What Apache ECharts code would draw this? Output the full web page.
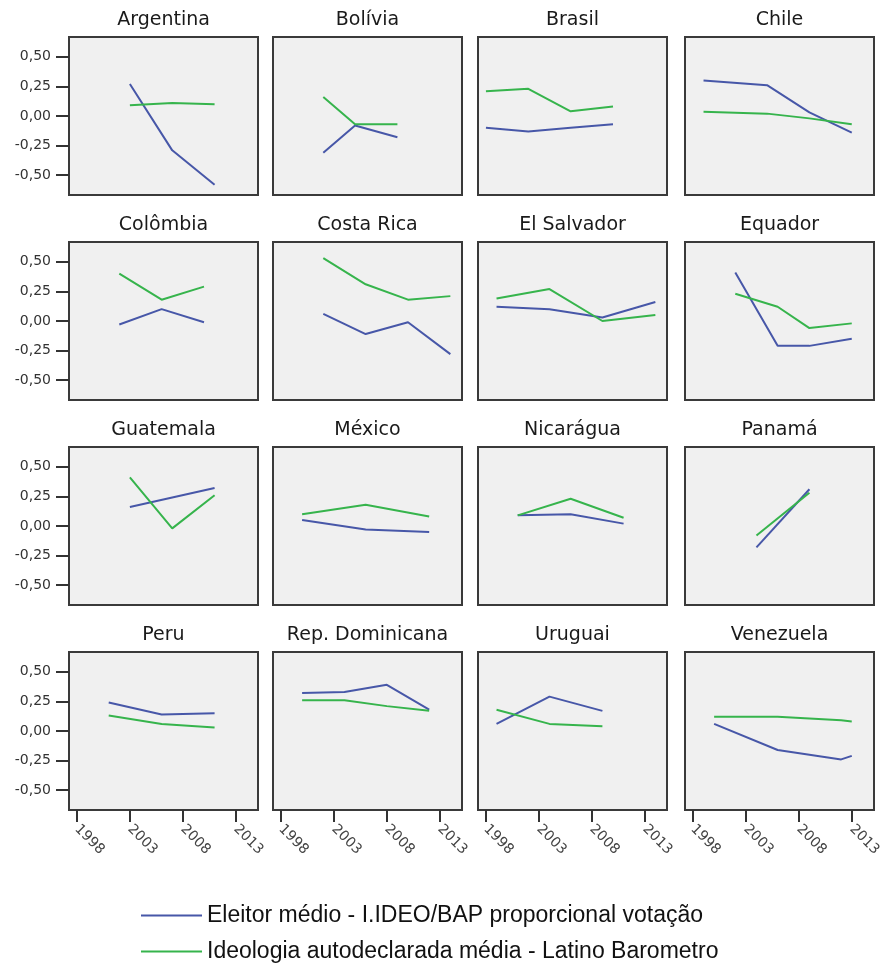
<!DOCTYPE html>
<html>
<head>
<meta charset="utf-8">
<script src="https://cdn.jsdelivr.net/npm/echarts@6/dist/echarts.min.js"></script>
<style>
  html, body { margin: 0; padding: 0; background: #fff; }
  #chart { width: 885px; height: 968px; }
</style>
</head>
<body>
<div id="chart"></div>
<script>
// países (um painel cada, 4 x 4)
var paises = ['Argentina', 'Bolívia', 'Brasil', 'Chile',
    'Colômbia', 'Costa Rica', 'El Salvador', 'Equador',
    'Guatemala', 'México', 'Nicarágua', 'Panamá',
    'Peru', 'Rep. Dominicana', 'Uruguai', 'Venezuela'];

// anos de eleição por país
var anos = [
    [2003, 2007, 2011],
    [2002, 2005, 2009],
    [1998, 2002, 2006, 2010],
    [1999, 2005, 2009, 2013],
    [2002, 2006, 2010],
    [2002, 2006, 2010, 2014],
    [1999, 2004, 2009, 2014],
    [2002, 2006, 2009, 2013],
    [2003, 2007, 2011],
    [2000, 2006, 2012],
    [2001, 2006, 2011],
    [2004, 2009],
    [2001, 2006, 2011],
    [2000, 2004, 2008, 2012],
    [1999, 2004, 2009],
    [2000, 2006, 2012, 2013]
];

// Eleitor médio - I.IDEO/BAP proporcional votação
var eleitorMedio = [
    [0.27, -0.29, -0.58],
    [-0.31, -0.08, -0.18],
    [-0.10, -0.13, -0.10, -0.07],
    [0.30, 0.26, 0.03, -0.14],
    [-0.03, 0.10, -0.01],
    [0.06, -0.11, -0.01, -0.28],
    [0.12, 0.10, 0.03, 0.16],
    [0.41, -0.21, -0.21, -0.15],
    [0.16, 0.24, 0.32],
    [0.05, -0.03, -0.05],
    [0.09, 0.10, 0.02],
    [-0.18, 0.31],
    [0.24, 0.14, 0.15],
    [0.32, 0.33, 0.39, 0.18],
    [0.06, 0.29, 0.17],
    [0.06, -0.16, -0.24, -0.21]
];

// Ideologia autodeclarada média - Latino Barometro
var ideologiaMedia = [
    [0.09, 0.11, 0.10],
    [0.16, -0.07, -0.07],
    [0.21, 0.23, 0.04, 0.08],
    [0.035, 0.02, -0.02, -0.07],
    [0.40, 0.18, 0.29],
    [0.53, 0.31, 0.18, 0.21],
    [0.19, 0.27, 0.00, 0.05],
    [0.23, 0.12, -0.06, -0.02],
    [0.41, -0.02, 0.26],
    [0.10, 0.18, 0.08],
    [0.09, 0.23, 0.07],
    [-0.08, 0.28],
    [0.13, 0.06, 0.03],
    [0.26, 0.26, 0.21, 0.17],
    [0.18, 0.06, 0.04],
    [0.12, 0.12, 0.09, 0.08]
];

var xTicks = [1998, 2003, 2008, 2013];
var yTicks = [-0.5, -0.25, 0, 0.25, 0.5];

var nomeEleitor = 'Eleitor médio - I.IDEO/BAP proporcional votação';
var nomeIdeologia = 'Ideologia autodeclarada média - Latino Barometro';

var colLeft = [69, 273, 478, 685];
var rowTop = [37, 242, 447, 652];
var panelW = 189, panelH = 158;

var chart = echarts.init(document.getElementById('chart'));

var grids = [], xAxes = [], yAxes = [], titles = [], series = [];

function pares(xs, ys) {
    var out = [];
    for (var k = 0; k < xs.length; k++) out.push([xs[k], ys[k]]);
    return out;
}

for (var i = 0; i < paises.length; i++) {
    var r = Math.floor(i / 4), c = i % 4;
    grids.push({
        left: colLeft[c], top: rowTop[r], width: panelW, height: panelH,
        show: true, backgroundColor: '#f0f0f0', borderColor: '#3a3a3a', borderWidth: 2
    });
    titles.push({
        text: paises[i],
        left: colLeft[c] + panelW / 2, top: rowTop[r] - 26,
        textAlign: 'center', padding: 0,
        textStyle: { fontFamily: 'DejaVu Sans', fontSize: 19, fontWeight: 'normal', color: '#1a1a1a' }
    });
    xAxes.push({
        type: 'value', gridIndex: i, min: 1997.25, max: 2015.1,
        axisLine: { show: false, onZero: false },
        splitLine: { show: false },
        axisTick: { show: r === 3, length: 12, customValues: xTicks, lineStyle: { color: '#333', width: 2 } },
        axisLabel: {
            show: r === 3, customValues: xTicks, rotate: -45, margin: 17,
            fontFamily: 'DejaVu Sans', fontSize: 14, color: '#444',
            formatter: function (v) { return String(v); }
        }
    });
    yAxes.push({
        type: 'value', gridIndex: i, min: -0.667, max: 0.667,
        axisLine: { show: false, onZero: false },
        splitLine: { show: false },
        axisTick: { show: c === 0, length: 13, customValues: yTicks, lineStyle: { color: '#333', width: 2 } },
        axisLabel: {
            show: c === 0, customValues: yTicks, margin: 18,
            fontFamily: 'DejaVu Sans', fontSize: 14, color: '#333',
            formatter: function (v) { return v.toFixed(2).replace('.', ','); }
        }
    });
    series.push({
        name: nomeEleitor, type: 'line', xAxisIndex: i, yAxisIndex: i,
        showSymbol: false, color: '#4757a8', lineStyle: { width: 2 },
        data: pares(anos[i], eleitorMedio[i])
    });
    series.push({
        name: nomeIdeologia, type: 'line', xAxisIndex: i, yAxisIndex: i,
        showSymbol: false, color: '#36b44c', lineStyle: { width: 2 },
        data: pares(anos[i], ideologiaMedia[i])
    });
}

chart.setOption({
    animation: false,
    backgroundColor: '#fff',
    title: titles,
    grid: grids,
    xAxis: xAxes,
    yAxis: yAxes,
    legend: {
        data: [nomeEleitor, nomeIdeologia],
        orient: 'vertical',
        left: 141, top: 904, padding: 0,
        icon: 'rect', itemWidth: 61, itemHeight: 2, itemGap: 13,
        textStyle: { fontFamily: 'Liberation Sans', fontSize: 23, color: '#111' }
    },
    series: series
});
</script>
</body>
</html>
